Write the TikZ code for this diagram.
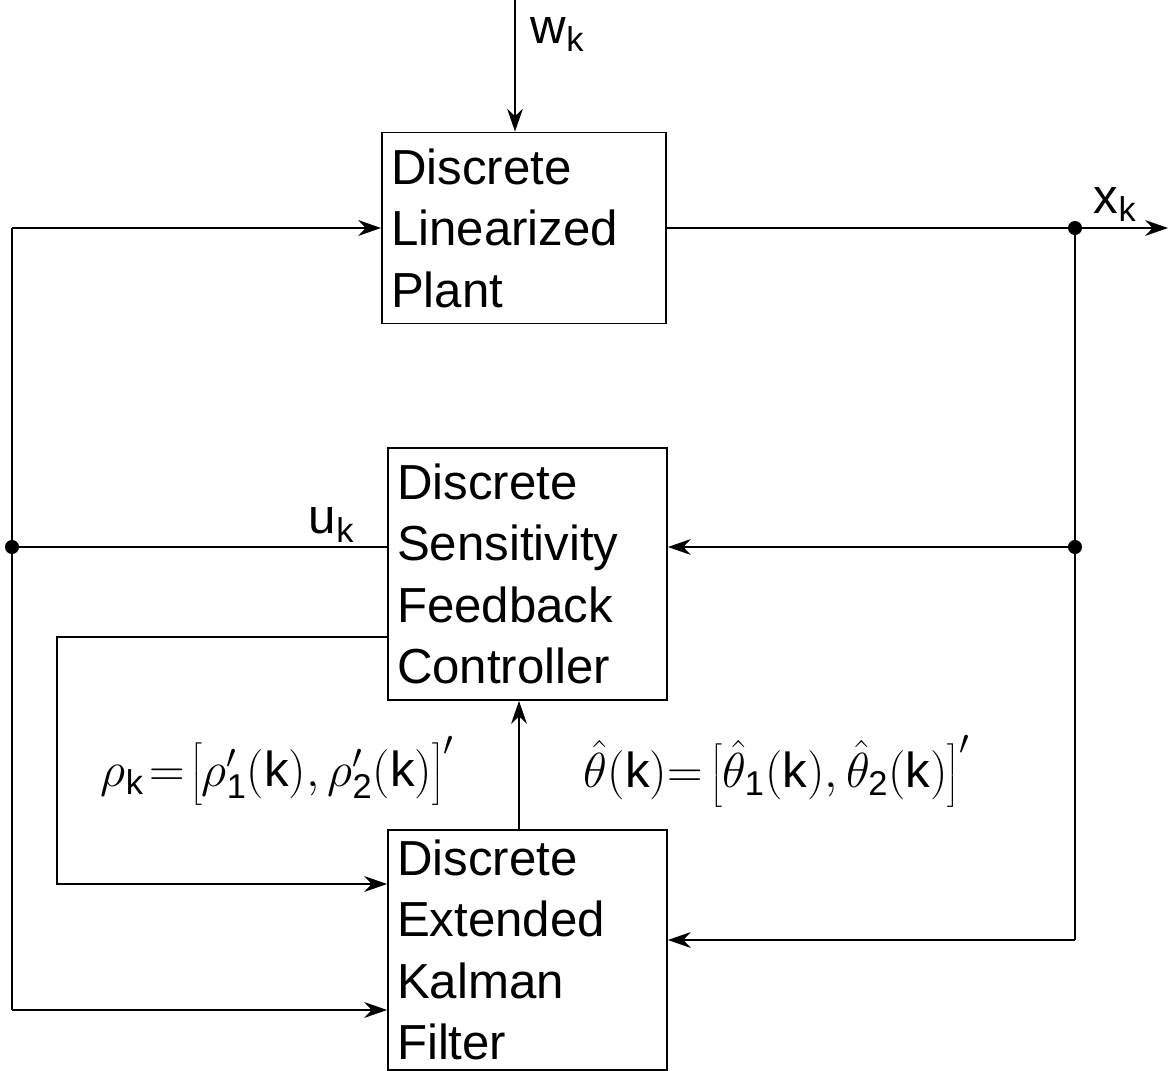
\RequirePackage{fix-cm}
\documentclass[tikz,border=0pt]{standalone}
\usepackage{fontspec}
\setmainfont{Liberation Sans}
\usetikzlibrary{arrows.meta}

\tikzset{
  blockbox/.style={draw, line width=1.1pt, align=left, inner xsep=5pt, inner ysep=0pt,
    font=\fontsize{28}{35}\selectfont},
  siglbl/.style={font=\fontsize{28}{34}\selectfont, inner sep=0pt},
  junct/.style={circle, fill, inner sep=0pt, minimum size=8pt},
}
\newcommand{\tallstrut}{\vrule height 25pt depth 12pt width 0pt}

\begin{document}
\begin{tikzpicture}[>={Stealth[length=13pt,width=9pt]}, x=0.02cm, y=-0.02cm, line width=1.1pt]
    \useasboundingbox (0,0) rectangle (1170,1071);

    % Blocks
    \node[blockbox, minimum width=5.68cm, minimum height=3.82cm, text width=5.32cm] (plant) at (524,228) {Discrete\\Linearized\\Plant};
    \node[blockbox, minimum width=5.58cm, minimum height=5.04cm, text width=5.22cm] (ctrl) at (527.5,574) {Discrete\\Sensitivity\\Feedback\\Controller};
    \node[blockbox, minimum width=5.58cm, minimum height=4.8cm, text width=5.22cm] (filter) at (527.5,950) {Discrete\\Extended\\Kalman\\Filter};

    % Branch points
    \coordinate (win) at (515,0);
    \coordinate (xout) at (1168,228);
    \coordinate (jtop) at (1075,228);
    \coordinate (jmid) at (1075,547);
    \coordinate (jbot) at (1075,940);
    \coordinate (ltop) at (12,228);
    \coordinate (udot) at (12,547);
    \coordinate (lbot) at (12,1010);
    \coordinate (rout) at (57,637);
    \coordinate (rin) at (57,884);
    \coordinate (tup) at (519,830);

    % Plant input and output
    \draw[->] (win) -- (win |- plant.north);
    \draw[->] (plant.east) -- (xout);
    \draw[->] (ltop) -- (plant.west);

    % Measurement feedback
    \draw (jtop) -- (jbot);
    \draw[->] (jmid) -- (jmid -| ctrl.east);
    \draw[->] (jbot) -- (jbot -| filter.east);

    % Control signal
    \draw (udot -| ctrl.west) -- (udot);
    \draw (ltop) -- (lbot);
    \draw[->] (lbot) -- (lbot -| filter.west);

    % Filter / controller exchange
    \draw[->] (rout -| ctrl.west) -- (rout) -- (rin) -- (rin -| filter.west);
    \draw[->] (filter.north -| tup) -- (ctrl.south -| tup);

    \node[junct] (d1) at (jtop) {};
    \node[junct] (d2) at (jmid) {};
    \node[junct] (d3) at (udot) {};

    % Labels
    \node[siglbl, anchor=west] (wlbl) at (530,35) {$\mathrm{w}_{\mathrm{k}}$};
    \node[siglbl, anchor=west] (xlbl) at (1093,205) {$\mathrm{x}_{\mathrm{k}}$};
    \node[siglbl, anchor=west] (ulbl) at (308,525) {$\mathrm{u}_{\mathrm{k}}$};
    \node[siglbl, anchor=west] (rlbl) at (100,772) {$\rho_{\mathrm{k}}\!=\!\left[\tallstrut\rho'_{\mathrm{1}}(\mathrm{k}),\rho'_{\mathrm{2}}(\mathrm{k})\right]'$};
    \node[siglbl, anchor=west] (tlbl) at (583,772) {$\hat{\theta}(\mathrm{k}){=}\left[\tallstrut\hat{\theta}_{\mathrm{1}}(\mathrm{k}),\hat{\theta}_{\mathrm{2}}(\mathrm{k})\right]'$};
\end{tikzpicture}
\end{document}
